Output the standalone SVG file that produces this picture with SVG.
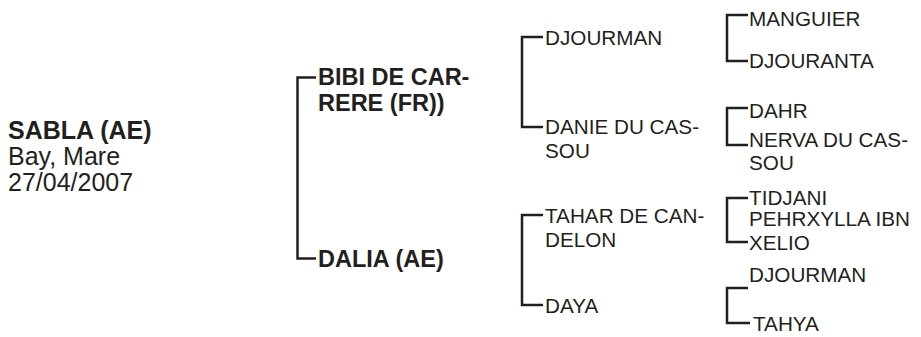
<svg xmlns="http://www.w3.org/2000/svg" width="921" height="337" viewBox="0 0 921 337">
<style>
text{font-family:"Liberation Sans",Arial,sans-serif;fill:#231f20}
.root{font-size:25px}
.b{font-weight:bold}
.g1{font-size:23.5px;font-weight:bold}
.g2{font-size:20.7px}
.g3{font-size:20.7px}
.ln{fill:none;stroke:#231f20;stroke-width:2.5}
</style>
<rect width="921" height="337" fill="#fff"/>
<g id="connectors">
<path class="ln" d="M316,77.5H297.5V258.5H316"/>
<path class="ln" d="M543,37H522V127H543"/>
<path class="ln" d="M543,215H522V305H543"/>
<path class="ln" d="M748,15H727V61H748"/>
<path class="ln" d="M748,108H727V145H748"/>
<path class="ln" d="M748,198H727V242H748"/>
<path class="ln" d="M748,288H727V323H750"/>
</g>
<g id="root">
<text class="root b" x="8" y="139">SABLA (AE)</text>
<text class="root" x="8" y="165">Bay, Mare</text>
<text class="root" x="8" y="191">27/04/2007</text>
</g>
<g id="n-bibi"><text class="g1" x="318" y="85">BIBI DE CAR-</text><text class="g1" x="318" y="111">RERE (FR))</text></g>
<g id="n-dalia"><text class="g1" x="318" y="267">DALIA (AE)</text></g>
<g id="n-djourman"><text class="g2" x="545" y="45">DJOURMAN</text></g>
<g id="n-danie"><text class="g2" x="545" y="134">DANIE DU CAS-</text><text class="g2" x="545" y="158">SOU</text></g>
<g id="n-tahar"><text class="g2" x="545" y="223">TAHAR DE CAN-</text><text class="g2" x="545" y="247">DELON</text></g>
<g id="n-daya"><text class="g2" x="545" y="313">DAYA</text></g>
<g id="n-manguier"><text class="g3" x="749" y="26">MANGUIER</text></g>
<g id="n-djouranta"><text class="g3" x="749" y="68">DJOURANTA</text></g>
<g id="n-dahr"><text class="g3" x="749" y="118">DAHR</text></g>
<g id="n-nerva"><text class="g3" x="749" y="147">NERVA DU CAS-</text><text class="g3" x="749" y="170">SOU</text></g>
<g id="n-tidjani"><text class="g3" x="749" y="205">TIDJANI</text><text class="g3" x="749" y="226">PEHRXYLLA IBN</text><text class="g3" x="749" y="250">XELIO</text></g>
<g id="n-djourman2"><text class="g3" x="749" y="282">DJOURMAN</text></g>
<g id="n-tahya"><text class="g3" x="753" y="331">TAHYA</text></g>
</svg>
